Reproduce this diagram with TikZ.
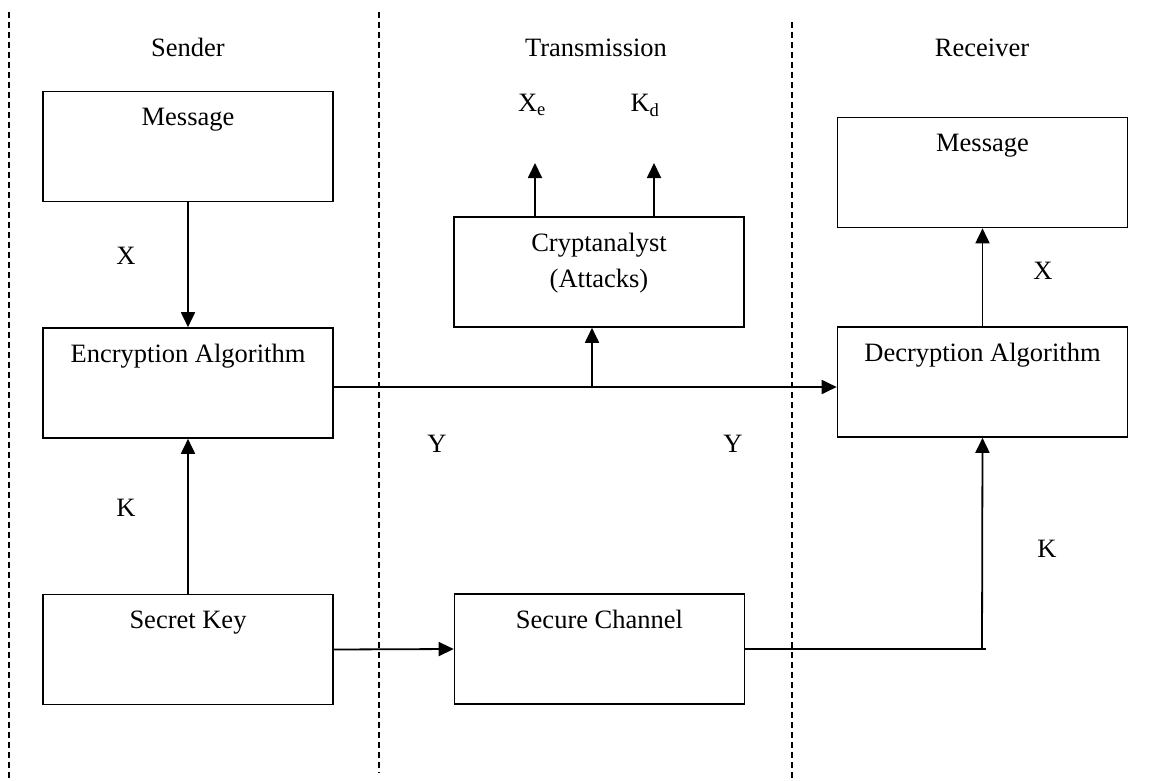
\documentclass[tikz,border=0pt]{standalone}
\usepackage{fontspec}
\setmainfont{Liberation Serif}
\usetikzlibrary{arrows.meta}
\begin{document}
\begin{tikzpicture}[x=1pt,y=-1pt,
 box/.style={draw, line width=1.6pt, minimum width=290pt, minimum height=110pt, inner sep=0pt},
 boxtext/.style={anchor=base, inner sep=0pt, align=center},
 lbl/.style={inner sep=0pt},
 head/.style={inner sep=0pt, anchor=base},
 conn/.style={line width=1.8pt},
 arr/.style={conn, -{Triangle[length=15pt,width=14pt]}},
 sepline/.style={line width=1.5pt, dash pattern=on 6pt off 4pt},
 font=\fontsize{26.5}{36}\selectfont]
\useasboundingbox (0,0) rectangle (1153,781);

% swimlane separators
\draw[sepline] (9,12) -- (9,780);
\draw[sepline] (379,12) -- (379,773);
\draw[sepline] (792,22) -- (792,778);

% headers
\node[head] (sender) at (188,57) {Sender};
\node[head] (trans) at (596,57) {Transmission};
\node[head] (recv) at (982,57) {Receiver};

% boxes
\node[box] (msg) at (188,146.5) {};
\node[boxtext] (msgt) at ([yshift=-35pt]msg.north) {Message};
\node[box] (enc) at (188,383) {};
\node[boxtext] (enct) at ([yshift=-35pt]enc.north) {Encryption Algorithm};
\node[box] (key) at (188,649.5) {};
\node[boxtext] (keyt) at ([yshift=-35pt]key.north) {Secret Key};
\node[box] (crypt) at (599,272) {};
\node[boxtext, anchor=north] (cryptt) at ([yshift=-17pt]crypt.north) {Cryptanalyst\\(Attacks)};
\node[box] (sc) at (599.5,649) {};
\node[boxtext] (sct) at ([yshift=-35pt]sc.north) {Secure Channel};
\node[box] (rmsg) at (982.5,172.5) {};
\node[boxtext] (rmsgt) at ([yshift=-35pt]rmsg.north) {Message};
\node[box] (dec) at (982.5,382) {};
\node[boxtext] (dect) at ([yshift=-35pt]dec.north) {Decryption Algorithm};

% labels
\node[head] (xe) at (532,112) {X\textsubscript{e}};
\node[head] (kd) at (645,112) {K\textsubscript{d}};
\node[lbl] (lx1) at (126,255.5) {X};
\node[lbl] (lk1) at (126,508) {K};
\node[lbl] (ly1) at (437,444) {Y};
\node[lbl] (ly2) at (733,444) {Y};
\node[lbl] (lx2) at (1043,270.5) {X};
\node[lbl] (lk2) at (1047,548.5) {K};

% helper coordinates
\coordinate (ymid) at (0,387);
\coordinate (br) at (592,387);
\coordinate (xetip) at (535,163);
\coordinate (kdtip) at (654,163);
\coordinate (corner) at (986,649);
\coordinate (up) at (982,649);

% connectors
\draw[arr] (msg.south) -- (enc.north);
\draw[arr] (key.north) -- (enc.south);
\draw[arr] (enc.east |- ymid) -- (dec.west |- ymid);
\draw[arr] (br) -- (br |- crypt.south);
\draw[arr] (crypt.north -| xetip) -- (xetip);
\draw[arr] (crypt.north -| kdtip) -- (kdtip);
\draw[arr] (key.east) -- (sc.west);
\draw[conn] (sc.east) -- (corner);
\draw[arr] (up) -- (dec.south);
\draw[arr] (dec.north) -- (rmsg.south);
\end{tikzpicture}
\end{document}
